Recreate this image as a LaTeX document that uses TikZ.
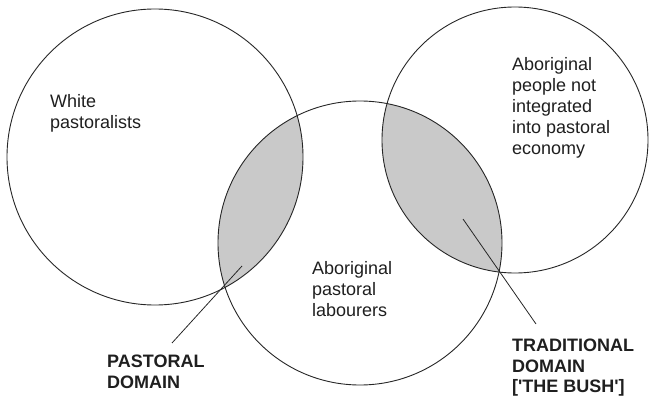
\documentclass[tikz,border=0pt]{standalone}
\usepackage{fontspec}
\setmainfont{Liberation Sans}
\newfontfamily\plainsans{Liberation Sans}
\begin{document}
\begin{tikzpicture}[x=1pt,y=-1pt,
  ring/.style={draw=black!85,line width=0.9pt},
  lens/.style={fill=black!21},
  pointer/.style={draw=black!85,line width=0.8pt},
  lbl/.style={anchor=north west,inner sep=0pt,align=left,text=black!88,font=\fontsize{18}{21}\selectfont},
  blbl/.style={lbl,font=\plainsans\fontsize{18}{20.5}\selectfont\bfseries}]
\useasboundingbox (0,0) rectangle (653,398);
% shaded intersections
\begin{scope}
  \clip (155,157) circle[radius=148];
  \fill[lens] (360,243) circle[radius=142];
\end{scope}
\begin{scope}
  \clip (515,140) circle[radius=133];
  \fill[lens] (360,243) circle[radius=142];
\end{scope}
% circles
\node[ring,circle,minimum size=296pt,inner sep=0pt] (white) at (155,157) {};
\node[ring,circle,minimum size=284pt,inner sep=0pt] (labour) at (360,243) {};
\node[ring,circle,minimum size=266pt,inner sep=0pt] (trad) at (515,140) {};
% labels
\node[lbl] (wtxt) at (50,94) {White\\pastoralists};
\node[lbl] (atxt) at (512,57) {Aboriginal\\people not\\integrated\\into pastoral\\economy};
\node[lbl] (ltxt) at (312,261) {Aboriginal\\pastoral\\labourers};
\node[blbl] (ptxt) at (107,355) {PASTORAL\\DOMAIN};
\node[blbl] (ttxt) at (512,339) {TRADITIONAL\\DOMAIN\\{[}'THE BUSH']};
% pointers
\coordinate (pin1) at (242,266);
\coordinate (pend1) at (172,343);
\coordinate (pin2) at (463,219);
\coordinate (pend2) at (536,324);
\draw[pointer] (pin1) -- (pend1);
\draw[pointer] (pin2) -- (pend2);
\end{tikzpicture}
\end{document}
